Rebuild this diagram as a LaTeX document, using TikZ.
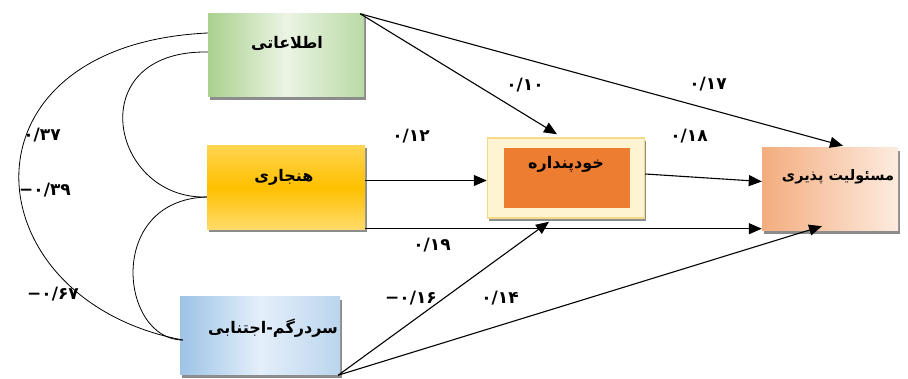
\documentclass[tikz,border=0pt]{standalone}
\usepackage{fontspec}
\usetikzlibrary{arrows.meta,calc,shadows}
\TeXXeTstate=1
\newfontfamily\arabicfont[Script=Arabic]{DejaVu Sans}
\newfontfamily\numfont{DejaVu Sans}
\definecolor{gEdge}{HTML}{A9D18E}
\definecolor{gMid}{HTML}{EBF4E4}
\definecolor{yTop}{HTML}{FFD44F}
\definecolor{yMid}{HTML}{FFC000}
\definecolor{yBot}{HTML}{FFDB6A}
\definecolor{bEdge}{HTML}{9DC3E6}
\definecolor{bMid}{HTML}{E4EFFA}
\definecolor{kPale}{HTML}{FFF4D2}
\definecolor{kLine}{HTML}{F3D98A}
\definecolor{kOrange}{HTML}{ED7D31}
\definecolor{mLeft}{HTML}{F3AD7E}
\definecolor{mRight}{HTML}{FDEBDF}
\tikzset{
  box/.style={rectangle, inner sep=0pt,
    drop shadow={shadow xshift=1.5pt, shadow yshift=-3pt, fill=black!75, opacity=.6}},
  ttl/.style={font=\arabicfont\bfseries\fontsize{16}{18}\selectfont, inner sep=0pt},
  ttlsmall/.style={font=\arabicfont\bfseries\fontsize{14.5}{17}\selectfont, inner sep=0pt},
  coef/.style={font=\numfont\bfseries\fontsize{17}{19}\selectfont, inner sep=0pt},
  pth/.style={line width=1.1pt, -{Triangle[length=13pt,width=11pt]}},
  cov/.style={line width=0.8pt},
}
\begin{document}
\begin{tikzpicture}[x=1pt,y=-1pt]
\useasboundingbox (0,0) rectangle (908,379);
\fill[white] (0,0) rectangle (908,379);

% boxes
\node[box, minimum width=156, minimum height=83, left color=gEdge, right color=gEdge!80, middle color=gMid] (A) at (286,55.5) {};
\node[box, minimum width=158, minimum height=84, top color=yTop, bottom color=yBot, middle color=yMid] (H) at (286,187.5) {};
\node[box, minimum width=160, minimum height=78, left color=bEdge, right color=bEdge!70, middle color=bMid] (S) at (260,336) {};
\node[box, minimum width=157, minimum height=80, fill=kPale, draw=kLine, line width=1.5pt] (K) at (566,178) {};
\node[rectangle, inner sep=0pt, minimum width=126, minimum height=60, fill=kOrange] (Ki) at (567,178) {};
\node[box, minimum width=136, minimum height=83, left color=mLeft, right color=mRight] (M) at (830,189.5) {};

% titles
\node[ttl] (At) at (287,43) {\beginR اطلاعاتی\endR};
\node[ttl] (Ht) at (284,177) {\beginR هنجاری\endR};
\node[ttl] (St) at (273,328) {\beginR سردرگم-اجتنابی\endR};
\node[ttl] (Kt) at (566,164) {\beginR خودپنداره\endR};
\node[ttlsmall] (Mt) at (838,177) {\beginR مسئولیت پذیری\endR};

% paths
\draw[pth] ($(A.north east)+(-4,0)$) -- ($(K.north)+(-9,-3)$);
\draw[pth] ($(A.north east)+(-4,0)$) -- ($(M.north)+(13,-2)$);
\draw[pth] ($(H.east)+(0,-7)$) coordinate (h1) -- (h1 -| K.west);
\draw[pth] ($(H.south east)+(0,-1)$) coordinate (h2) -- (h2 -| M.west);
\draw[pth] ($(K.east)+(0,-4)$) -- ($(M.west)+(0,-8)$);
\draw[pth] ($(S.south east)+(-2,0)$) -- ($(K.south)+(-17,3)$);
\draw[pth] ($(S.south east)+(-2,0)$) -- ($(M.south)+(-8,-5)$);

% covariances
\draw[cov] ($(A.west)+(0,-22.5)$) .. controls (-50,45) and (-30,300) .. ($(S.west)+(3,4)$);
\draw[cov] ($(A.west)+(0,-3.5)$) .. controls (80,50) and (110,200) .. ($(H.west)+(0,9.5)$);
\draw[cov] ($(H.west)+(0,9.5)$) .. controls (105,200) and (120,340) .. ($(S.west)+(3,4)$);

% coefficients
\node[coef] (c10) at (525,85) {۰/۱۰};
\node[coef] (c17) at (708,84) {۰/۱۷};
\node[coef] (c12) at (411,136) {۰/۱۲};
\node[coef] (c18) at (689,136) {۰/۱۸};
\node[coef] (c19) at (432,245) {۰/۱۹};
\node[coef] (c16) at (411,298) {−۰/۱۶};
\node[coef] (c14) at (500,298) {۰/۱۴};
\node[coef] (c37) at (42,135) {۰/۳۷};
\node[coef] (c39) at (45,190) {−۰/۳۹};
\node[coef] (c67) at (53,294) {−۰/۶۷};
\end{tikzpicture}
\end{document}
